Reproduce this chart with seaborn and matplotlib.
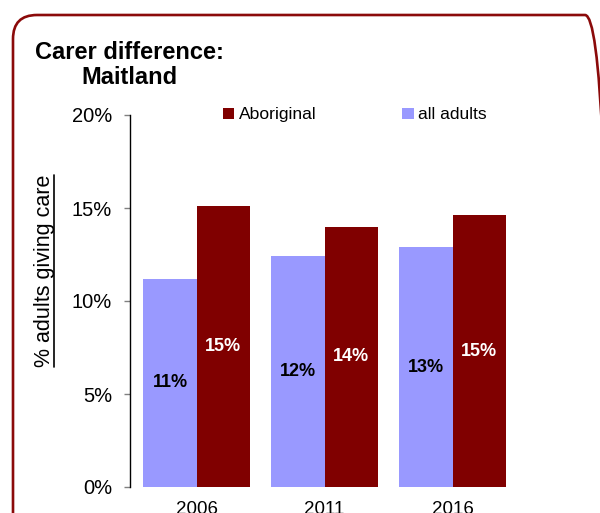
import pandas as pd
import matplotlib.pyplot as plt
import seaborn as sns
from matplotlib.patches import FancyBboxPatch
from matplotlib.lines import Line2D
from matplotlib.transforms import IdentityTransform
from matplotlib.ticker import FuncFormatter

# Data
years = ['2006', '2011', '2016']
all_adults = [11.2, 12.4, 12.9]
aboriginal = [15.1, 14.0, 14.6]
groups = ['all adults', 'Aboriginal']
colors = {'all adults': '#9999FF', 'Aboriginal': '#800000'}

df = pd.DataFrame({
    'year': years * 2,
    'value': all_adults + aboriginal,
    'group': ['all adults'] * 3 + ['Aboriginal'] * 3,
})

sns.set_style('white')
plt.rcParams['font.family'] = ['Liberation Sans', 'DejaVu Sans']
plt.rcParams['text.color'] = 'black'

fig = plt.figure(figsize=(6, 5.13), dpi=100)
ax = fig.add_axes([130 / 600, 26 / 513, 384 / 600, 372 / 513])

sns.barplot(data=df, x='year', y='value', hue='group', hue_order=groups,
            palette=colors, width=0.83, saturation=1, linewidth=0,
            ax=ax, legend=False)

# bar labels
ax.bar_label(ax.containers[0], fmt='%.0f%%', label_type='center',
             fontsize=13, fontweight='bold', color='black')
ax.bar_label(ax.containers[1], fmt='%.0f%%', label_type='center',
             fontsize=13, fontweight='bold', color='white')

ax.set_ylim(0, 20)
ax.set_yticks([0, 5, 10, 15, 20])
ax.yaxis.set_major_formatter(FuncFormatter(lambda v, p: f'{v:.0f}%'))
ax.set_xlim(-0.52, 2.48)
ax.set_xlabel('')
ax.set_ylabel('')
ax.tick_params(axis='y', length=4, width=1, color='#808080', labelcolor='black',
               pad=9, labelsize=14.5, left=True)
ax.tick_params(axis='x', length=0, pad=10, labelsize=13.5, labelcolor='black')
for s in ['top', 'right', 'bottom']:
    ax.spines[s].set_visible(False)
ax.spines['left'].set_color('black')
ax.spines['left'].set_linewidth(1)

# legend (Aboriginal first)
h = {lab: c for lab, c in zip(groups, ax.containers)}
ax.legend([h['Aboriginal'], h['all adults']], ['Aboriginal', 'all adults'],
          loc='center left', bbox_to_anchor=(223 / 600, 1 - 115 / 513),
          bbox_transform=fig.transFigure, ncol=2, frameon=False,
          fontsize=12.6, handlelength=0.65, handleheight=0.65,
          handletextpad=0.25, columnspacing=4.9, borderpad=0, borderaxespad=0)

# title
fig.text(129 / 600, 1 - 65 / 513, 'Carer difference:\nMaitland', ha='center', va='center',
         fontsize=17, fontweight='bold', multialignment='center', linespacing=1.1)

# y label with underline
fig.text(45 / 600, 1 - 271 / 513, '% adults giving care', rotation=90,
         ha='center', va='center', fontsize=15.5)
fig.add_artist(Line2D([54 / 600, 54 / 600], [1 - 175 / 513, 1 - 367 / 513],
                      transform=fig.transFigure, color='black', lw=1.2))

# rounded frame
frame = FancyBboxPatch((13, -60), 596, 558, boxstyle='round,pad=0,rounding_size=24',
                       transform=IdentityTransform(), facecolor='none',
                       edgecolor='#8B0A0A', lw=1.9, clip_on=False)
fig.add_artist(frame)

fig.savefig('out.png', dpi=100)
